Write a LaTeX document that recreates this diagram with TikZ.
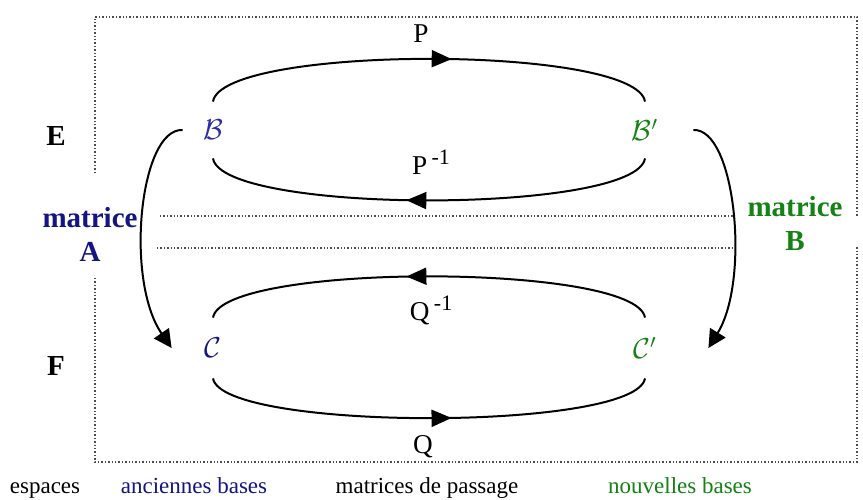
\documentclass[tikz,border=0pt]{standalone}
\usepackage{fontspec}
\setmainfont{Liberation Serif}
\usepackage{tikz}
\usetikzlibrary{arrows.meta,decorations.markings}
\definecolor{navy}{RGB}{20,20,130}
\definecolor{bleub}{RGB}{45,45,165}
\definecolor{vert}{RGB}{20,130,20}
\newcommand{\moinsun}{\,\raisebox{5pt}{\fontsize{11}{11}\selectfont -1}}

\begin{document}
\begin{tikzpicture}[x=0.5pt,y=-0.5pt,
  base/.style={inner sep=0pt,minimum height=28pt,font=\fontsize{14}{14}\selectfont},
  titre/.style={inner sep=0pt,font=\fontsize{14.5}{17}\selectfont\bfseries,align=center},
  lettre/.style={inner sep=0pt,font=\fontsize{13.6}{14}\selectfont},
  legende/.style={inner sep=0pt,anchor=base,font=\fontsize{11.5}{12}\selectfont},
  pas/.style={line width=1pt,postaction={decorate},
    decoration={markings,mark=at position .55 with {\arrow{Triangle[length=10pt,width=8.5pt]}}}},
  cote/.style={line width=1pt,-{Triangle[length=9pt,width=9pt]}},
  pointille/.style={densely dotted,black!70,line width=.7pt}]
  \useasboundingbox[fill=white] (0,0) rectangle (863,499);
  % dotted frames of the two spaces
  \draw[pointille] (95,173) -- (95,17) -- (857,17) -- (857,216);
  \draw[pointille] (160,216) -- (733,216);
  \draw[pointille] (157,248) -- (733,248);
  \draw[pointille] (95,278) -- (95,462) -- (857,462) -- (857,247);
  % spaces and matrices
  \node[titre] (espE) at (56,136) {E};
  \node[titre] (espF) at (56,366) {F};
  \node[titre,navy] (matA) at (90,234) {matrice\\A};
  \node[titre,vert] (matB) at (795,223) {matrice\\B};
  % bases
  \node[base,bleub,minimum width=30pt] (bA) at (213,130) {$\mathcal{B}$};
  \node[base,vert,minimum width=48pt] (bB) at (645,130) {$\mathcal{B}'$};
  \node[base,navy,minimum height=30pt,minimum width=41pt] (cA) at (213,348) {$\mathcal{C}$};
  \node[base,vert,minimum height=30pt,minimum width=63pt] (cB) at (645,348) {$\mathcal{C}'$};
  % change of basis matrices
  \draw[pas] (bA.north) .. controls +(9,-57) and +(-9,-57) .. (bB.north);
  \draw[pas] (bB.south) .. controls +(-9,56) and +(9,56) .. (bA.south);
  \draw[pas] (cB.north) .. controls +(-9,-55) and +(9,-55) .. (cA.north);
  \draw[pas] (cA.south) .. controls +(9,53) and +(-9,53) .. (cB.south);
  \node[lettre] (matP) at (421,34) {P};
  \node[lettre] (matPi) at (431,162) {P\moinsun};
  \node[lettre] (matQi) at (431,310) {Q\moinsun};
  \node[lettre] (matQ) at (423,447) {Q};
  % matrices of the map in each pair of bases
  \draw[cote] (bA.west) .. controls +(-43,-2) and +(-47,-68) .. (cA.west);
  \draw[cote] (bB.east) .. controls +(42,-2) and +(42,-68) .. (cB.east);
  % legend
  \node[legende] (lgEsp) at (45,493) {espaces};
  \node[legende,navy] (lgAnc) at (194,493) {anciennes bases};
  \node[legende] (lgPas) at (427,493) {matrices de passage};
  \node[legende,vert] (lgNouv) at (680,493) {nouvelles bases};
\end{tikzpicture}
\end{document}
